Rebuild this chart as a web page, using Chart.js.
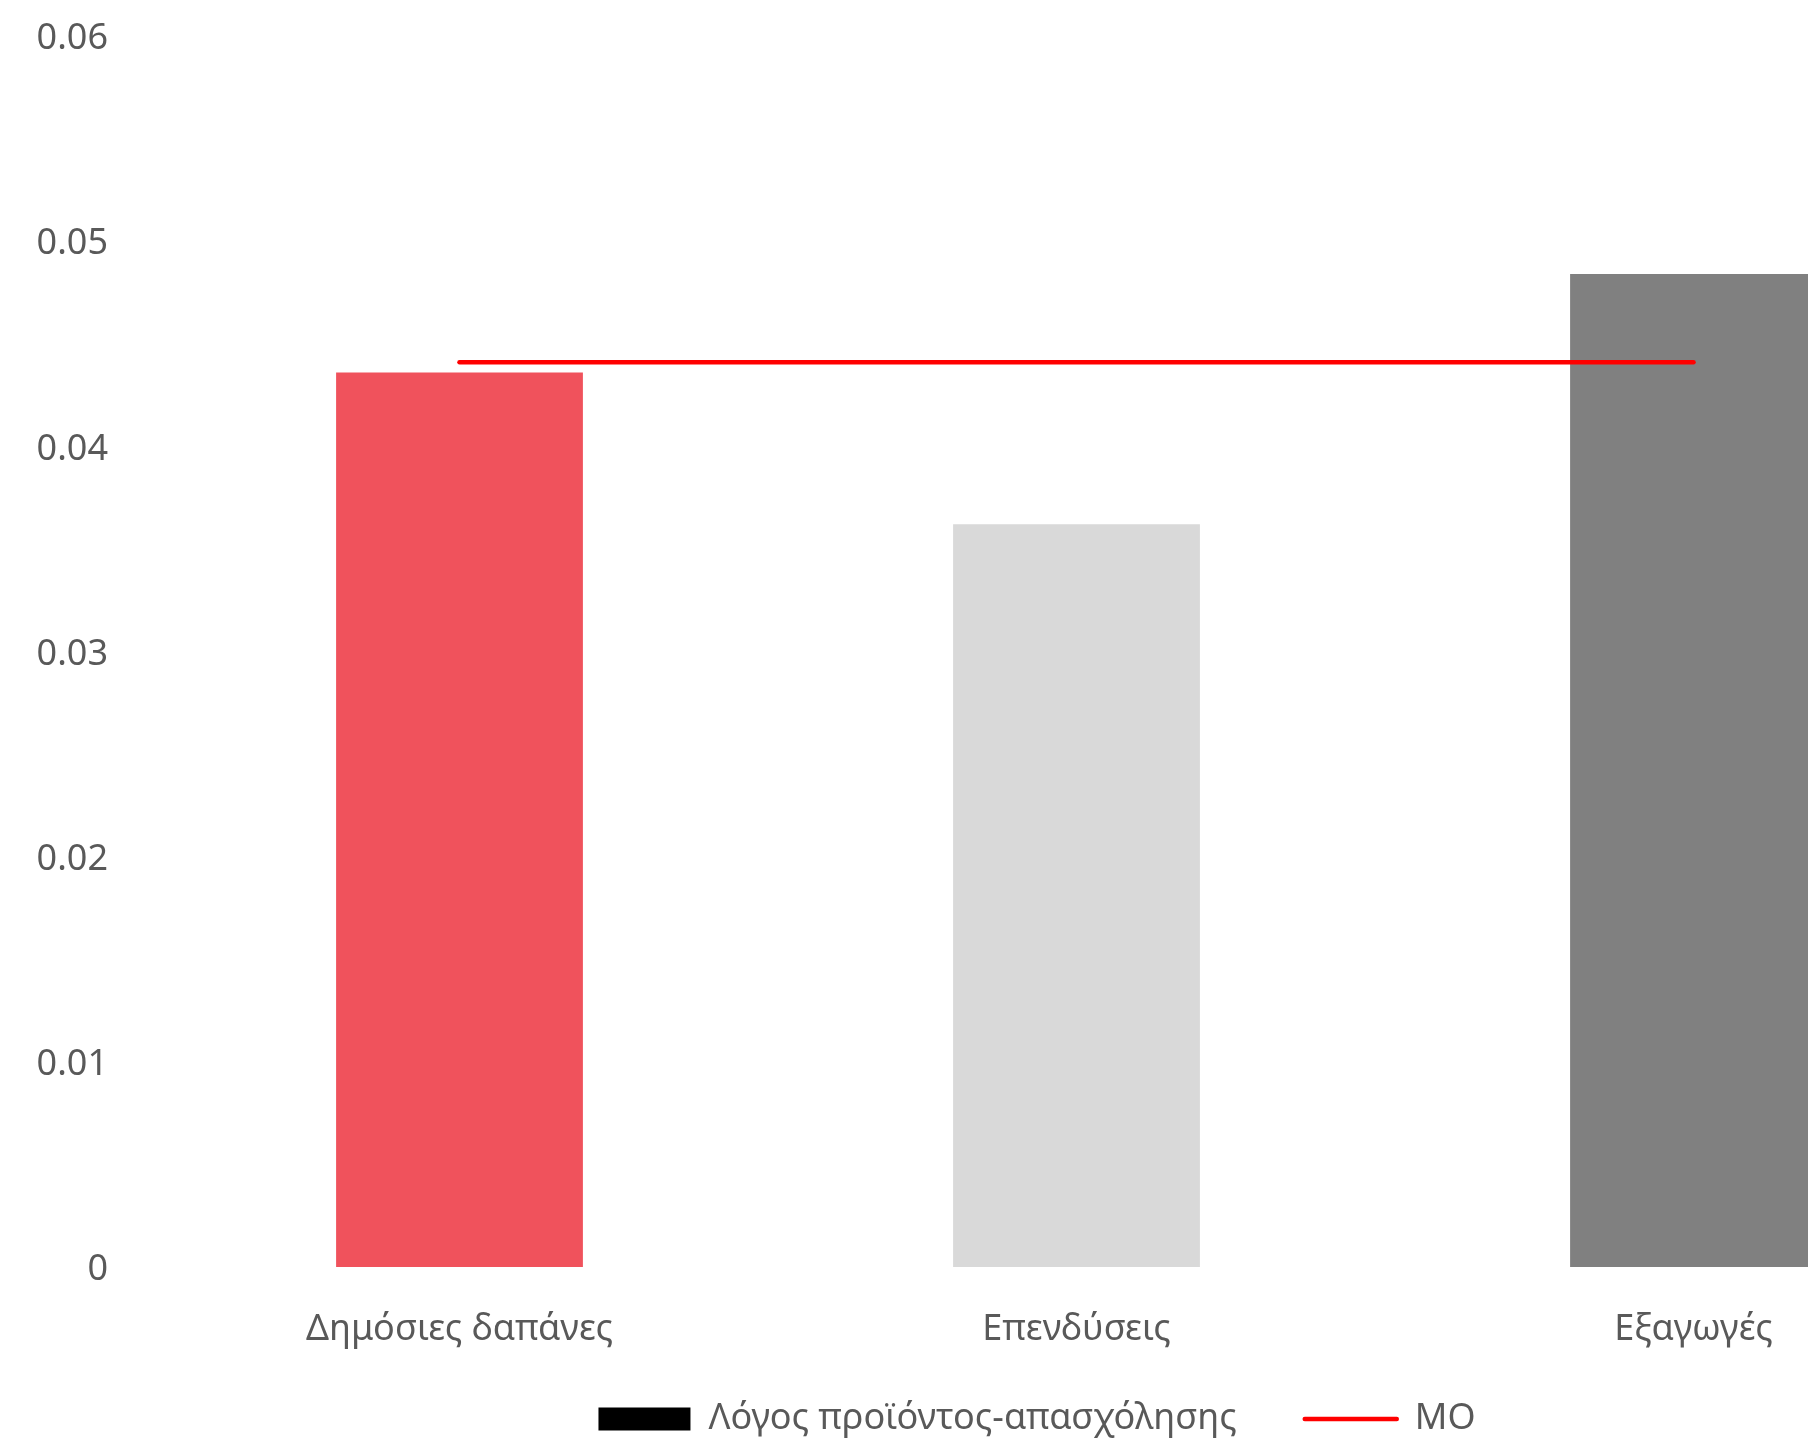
<!DOCTYPE html>
<html>
<head>
<meta charset="utf-8">
<script src="https://cdn.jsdelivr.net/npm/chart.js@4/dist/chart.umd.min.js"></script>
<style>
  html, body { margin: 0; padding: 0; background: #fff; overflow: hidden; }
  canvas { display: block; }
</style>
</head>
<body>
<canvas id="grafico" width="2074" height="1466"></canvas>
<script>
const categorias = ['Δημόσιες δαπάνες', 'Επενδύσεις', 'Εξαγωγές'];
const nomesSeries = ['Λόγος προϊόντος-απασχόλησης', 'ΜΟ'];
const valoresLogos = [0.0436, 0.0362, 0.0484];
const valoresMO = [0.0441, 0.0441, 0.0441];
const coresBarras = ['#F0525C', '#D9D9D9', '#808080'];
const ticksY = [0, 0.01, 0.02, 0.03, 0.04, 0.05, 0.06];

const corTexto = '#595959';
const fonte = { family: '"Noto Sans", "DejaVu Sans", sans-serif', size: 36 };

// legenda centrada um pouco mais à direita, como no original
const ajusteLegenda = {
  id: 'ajusteLegenda',
  afterLayout(chart) {
    const lg = chart.legend;
    lg.left += 36; lg.right += 36;
    lg.top -= 19; lg.bottom -= 19;
  }
};

const ctx = document.getElementById('grafico').getContext('2d');

new Chart(ctx, {
  type: 'bar',
  data: {
    labels: categorias,
    datasets: [
      {
        type: 'bar',
        label: nomesSeries[0],
        data: valoresLogos,
        backgroundColor: coresBarras,
        borderWidth: 0,
        barPercentage: 0.4,
        categoryPercentage: 1,
        order: 1
      },
      {
        type: 'line',
        label: nomesSeries[1],
        data: valoresMO,
        borderColor: '#FF0000',
        borderWidth: 4.5,
        borderCapStyle: 'round',
        pointRadius: 0,
        fill: false,
        order: 0
      }
    ]
  },
  options: {
    responsive: false,
    animation: false,
    layout: { padding: { top: 36, right: 72, left: 0, bottom: 0 } },
    scales: {
      x: {
        offset: true,
        grid: { display: false, drawTicks: false },
        border: { display: false },
        ticks: { color: corTexto, font: fonte, padding: 41, maxRotation: 0 },
        afterFit: scale => { scale.height = 85; }
      },
      y: {
        min: 0,
        max: 0.06,
        grid: { display: false, drawTicks: false },
        border: { display: false },
        afterBuildTicks: scale => { scale.ticks = ticksY.map(v => ({ value: v })); },
        ticks: {
          color: corTexto,
          font: fonte,
          padding: 43,
          labelOffset: 3,
          callback: v => v === 0 ? '0' : v.toFixed(2)
        },
        afterFit: scale => {
          scale.width = 151;
          scale.paddingTop = 0;
          scale.paddingBottom = 0;
        }
      }
    },
    plugins: {
      tooltip: { enabled: false },
      legend: {
        position: 'bottom',
        labels: {
          color: corTexto,
          font: fonte,
          usePointStyle: true,
          pointStyleWidth: 92,
          boxHeight: 23,
          padding: 68,
          generateLabels: () => [
            {
              text: nomesSeries[0], fillStyle: '#000000', strokeStyle: '#000000',
              lineWidth: 0, pointStyle: 'rect', datasetIndex: 0, hidden: false, fontColor: corTexto
            },
            {
              text: nomesSeries[1], fillStyle: '#FF0000', strokeStyle: '#FF0000',
              lineWidth: 4.5, lineCap: 'round', pointStyle: 'line', datasetIndex: 1, hidden: false, fontColor: corTexto
            }
          ]
        }
      }
    }
  },
  plugins: [ajusteLegenda]
});
</script>
</body>
</html>
